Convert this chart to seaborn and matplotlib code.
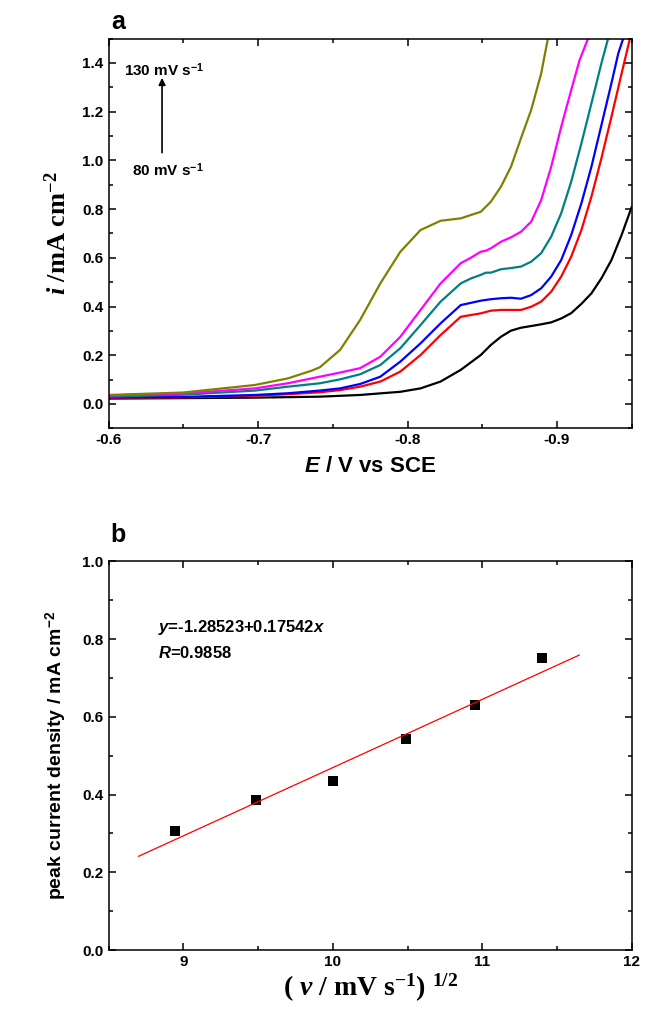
# Linear sweep voltammograms at different scan rates + peak current vs sqrt(scan rate)

import pandas as pd
import seaborn as sns
import matplotlib.pyplot as plt
from matplotlib.ticker import MultipleLocator

# ---- data ----
scan_rates = ['80', '90', '100', '110', '120', '130']
curve_colors = ['#000000', '#ff0000', '#0000ff', '#008080', '#ff00ff', '#808000']

E_80 = [-0.60, -0.65, -0.698, -0.72, -0.7414, -0.7683, -0.7952, -0.8087, -0.8221, -0.8356, -0.849,
        -0.8557, -0.8625, -0.8692, -0.8759, -0.8827, -0.8894, -0.8961, -0.9028, -0.9095, -0.9163,
        -0.923, -0.9297, -0.9364, -0.9432, -0.95]
i_80 = [0.022, 0.024, 0.026, 0.028, 0.030, 0.037, 0.050, 0.064, 0.092, 0.140, 0.201,
        0.242, 0.276, 0.301, 0.313, 0.320, 0.327, 0.335, 0.351, 0.373, 0.411,
        0.454, 0.516, 0.591, 0.694, 0.810]

E_90 = [-0.60, -0.65, -0.698, -0.72, -0.7414, -0.7549, -0.7683, -0.7818, -0.7952, -0.8087, -0.8221,
        -0.8356, -0.849, -0.8557, -0.8625, -0.8692, -0.8759, -0.8827, -0.8894, -0.8961, -0.9028,
        -0.9095, -0.9163, -0.923, -0.9297, -0.9364, -0.9432, -0.9488]
i_90 = [0.025, 0.027, 0.034, 0.040, 0.048, 0.057, 0.071, 0.092, 0.133, 0.201, 0.283,
        0.358, 0.372, 0.383, 0.386, 0.386, 0.386, 0.399, 0.420, 0.461, 0.523,
        0.605, 0.714, 0.851, 1.009, 1.179, 1.357, 1.501]

E_100 = [-0.60, -0.65, -0.698, -0.72, -0.7414, -0.7549, -0.7683, -0.7818, -0.7952, -0.8087, -0.8221,
         -0.8356, -0.849, -0.8557, -0.8625, -0.8692, -0.8759, -0.8827, -0.8894, -0.8961, -0.9028,
         -0.9095, -0.9163, -0.923, -0.9297, -0.9364, -0.941, -0.9443]
i_100 = [0.027, 0.029, 0.037, 0.044, 0.055, 0.064, 0.082, 0.112, 0.174, 0.249, 0.331,
         0.406, 0.424, 0.430, 0.434, 0.436, 0.432, 0.447, 0.475, 0.523, 0.591,
         0.694, 0.824, 0.974, 1.145, 1.317, 1.440, 1.501]

E_110 = [-0.60, -0.65, -0.698, -0.72, -0.7414, -0.7549, -0.7683, -0.7818, -0.7952, -0.8087, -0.8221,
         -0.8356, -0.8423, -0.849, -0.8524, -0.8557, -0.8625, -0.8692, -0.8759, -0.8827, -0.8894,
         -0.8961, -0.9028, -0.9095, -0.9163, -0.923, -0.9297, -0.9342]
i_110 = [0.030, 0.038, 0.055, 0.071, 0.085, 0.101, 0.122, 0.160, 0.229, 0.324, 0.420,
         0.495, 0.515, 0.530, 0.539, 0.539, 0.553, 0.558, 0.564, 0.584, 0.619,
         0.687, 0.783, 0.913, 1.070, 1.234, 1.399, 1.501]

E_120 = [-0.60, -0.65, -0.698, -0.72, -0.7414, -0.7549, -0.7683, -0.7818, -0.7952, -0.8087, -0.8221,
         -0.8356, -0.8423, -0.849, -0.8524, -0.8557, -0.8625, -0.8692, -0.8759, -0.8827, -0.8894,
         -0.8961, -0.9028, -0.9095, -0.9151, -0.9208]
i_120 = [0.035, 0.043, 0.064, 0.085, 0.112, 0.129, 0.147, 0.194, 0.276, 0.386, 0.495,
         0.578, 0.600, 0.625, 0.629, 0.639, 0.666, 0.684, 0.707, 0.748, 0.837,
         0.974, 1.138, 1.289, 1.412, 1.501]

E_130 = [-0.60, -0.65, -0.698, -0.72, -0.736, -0.7414, -0.7549, -0.7683, -0.7818, -0.7952, -0.8087,
         -0.8221, -0.8356, -0.849, -0.8557, -0.8625, -0.8692, -0.8759, -0.8827, -0.8894, -0.8939]
i_130 = [0.037, 0.047, 0.078, 0.105, 0.137, 0.151, 0.222, 0.345, 0.495, 0.625, 0.714,
         0.752, 0.762, 0.789, 0.830, 0.892, 0.974, 1.091, 1.207, 1.357, 1.501]

# panel b
sqrt_rate = [8.944, 9.487, 10.0, 10.488, 10.954, 11.402]
peak_current = [0.307, 0.385, 0.434, 0.542, 0.630, 0.751]
fit_x = [8.70, 11.65]
fit_y = [0.241, 0.759]

# ---- style ----
sns.set_style('ticks')
plt.rcParams['font.family'] = ['Liberation Sans', 'DejaVu Sans']
plt.rcParams['font.weight'] = 'bold'
plt.rcParams['text.color'] = 'black'
plt.rcParams['axes.labelcolor'] = 'black'
plt.rcParams['axes.edgecolor'] = 'black'
plt.rcParams['xtick.color'] = 'black'
plt.rcParams['ytick.color'] = 'black'
plt.rcParams['mathtext.fontset'] = 'custom'
plt.rcParams['mathtext.rm'] = 'Liberation Serif:bold'
plt.rcParams['mathtext.it'] = 'Liberation Serif:italic:bold'
plt.rcParams['mathtext.bf'] = 'Liberation Sans:bold'
plt.rcParams['mathtext.sf'] = 'Liberation Sans:bold'
plt.rcParams['mathtext.tt'] = 'Liberation Sans:italic:bold'  # used for italic sans letters
plt.rcParams['axes.linewidth'] = 1.1

fig = plt.figure(figsize=(6.46, 10.15), dpi=100)
ax1 = fig.add_axes([0.168, 0.578, 0.810, 0.384])
ax2 = fig.add_axes([0.168, 0.064, 0.810, 0.383])

# ---- panel a ----
all_E = [E_80, E_90, E_100, E_110, E_120, E_130]
all_i = [i_80, i_90, i_100, i_110, i_120, i_130]
frames = []
for rate, E, i in zip(scan_rates, all_E, all_i):
    frames.append(pd.DataFrame({'E': E, 'i': i, 'rate': rate}))
lsv = pd.concat(frames, ignore_index=True)

sns.lineplot(data=lsv, x='E', y='i', hue='rate', hue_order=scan_rates,
             palette=curve_colors, estimator=None, linewidth=1.6, legend=False, ax=ax1,
             solid_joinstyle='round', solid_capstyle='round')

ax1.set_xlim(-0.6, -0.95)
ax1.set_ylim(-0.1, 1.5)
ax1.xaxis.set_major_locator(MultipleLocator(0.1))
ax1.xaxis.set_minor_locator(MultipleLocator(0.05))
ax1.yaxis.set_minor_locator(MultipleLocator(0.1))
ax1.set_yticks([0.0, 0.2, 0.4, 0.6, 0.8, 1.0, 1.2, 1.4])
ax1.xaxis.set_major_formatter(lambda v, p: '%.1f' % v)
ax1.yaxis.set_major_formatter(lambda v, p: '%.1f' % v)
ax1.set_xlabel(r'$\mathtt{E}$ / V vs SCE', fontsize=16, fontweight='bold', labelpad=6)
ax1.set_ylabel(r'$\mathit{i}$ /mA cm$^{-2}$', fontsize=19, fontweight='bold',
               family='Liberation Serif', labelpad=8)

ax1.annotate('', xy=(-0.6358, 1.35), xytext=(-0.6358, 1.02),
             arrowprops=dict(arrowstyle='-|>', color='black', lw=1.2, mutation_scale=10))
ax1.text(-0.6103, 1.371, r'130 mV s$^{\mathsf{-1}}$', fontsize=11, fontweight='bold', va='center')
ax1.text(-0.6157, 0.96, r'80 mV s$^{\mathsf{-1}}$', fontsize=11, fontweight='bold', va='center')
fig.text(0.183, 0.978, 'a', fontsize=18, fontweight='bold', va='center', ha='center')

# ---- panel b ----
sns.lineplot(x=fit_x, y=fit_y, color='#ff0000', linewidth=0.9, ax=ax2)
sns.scatterplot(x=sqrt_rate, y=peak_current, marker='s', color='black', s=48,
                edgecolor='black', linewidth=0, ax=ax2)

ax2.set_xlim(8.5, 12)
ax2.set_ylim(0, 1.0)
ax2.xaxis.set_major_locator(MultipleLocator(1))
ax2.xaxis.set_minor_locator(MultipleLocator(0.5))
ax2.yaxis.set_major_locator(MultipleLocator(0.2))
ax2.yaxis.set_minor_locator(MultipleLocator(0.1))
ax2.yaxis.set_major_formatter(lambda v, p: '%.1f' % v)
ax2.set_xlabel(r'( $\mathit{v}$ / mV s$^{-1}$) $^{1/2}$', fontsize=20, fontweight='bold',
               family='Liberation Serif', labelpad=2)
ax2.set_ylabel(r'peak current density / mA cm$^{\mathsf{-2}}$', fontsize=14, fontweight='bold',
               labelpad=10)
ax2.text(8.834, 0.830, r'$\mathtt{y}$=-1.28523+0.17542$\mathtt{x}$', fontsize=12,
         fontweight='bold', va='center')
ax2.text(8.834, 0.763, r'$\mathtt{R}$=0.9858', fontsize=12, fontweight='bold', va='center')
fig.text(0.183, 0.473, 'b', fontsize=18, fontweight='bold', va='center', ha='center')

for ax in (ax1, ax2):
    ax.tick_params(direction='in', top=True, right=True, which='both', labelsize=11)
    ax.tick_params(which='major', length=5, width=1.1)
    ax.tick_params(which='minor', length=3, width=1.1)
    for lab in ax.get_xticklabels() + ax.get_yticklabels():
        lab.set_fontweight('bold')

fig.savefig('out.png', dpi=100)
